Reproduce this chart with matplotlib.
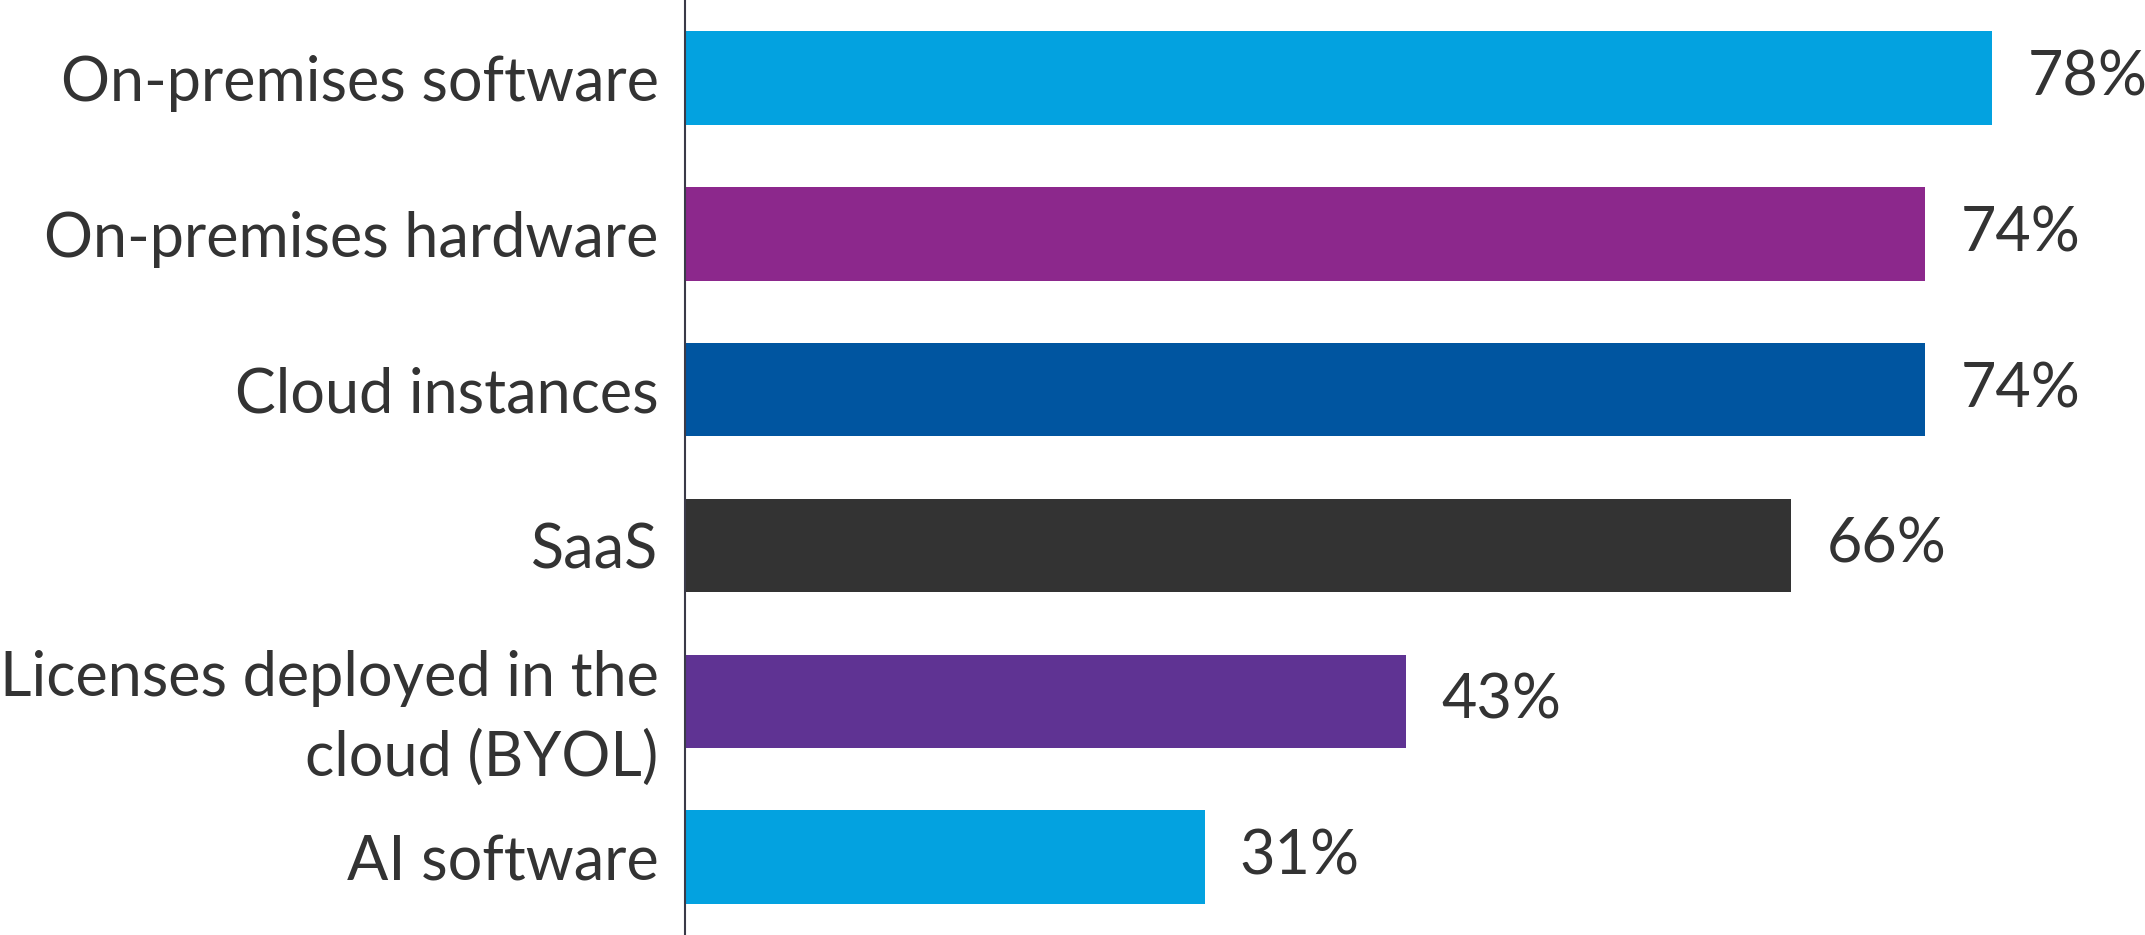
#!/usr/bin/env python3

import matplotlib
matplotlib.use('Agg')
import matplotlib.pyplot as plt
import numpy as np

# ======================================================================
# Data.
# ======================================================================

categories = [
    'On-premises software',
    'On-premises hardware',
    'Cloud instances',
    'SaaS',
    'Licenses deployed in the\ncloud (BYOL)',
    'AI software',
]
values = [78, 74, 74, 66, 43, 31]
colors = ['#03a2e0', '#8c288c', '#0055a0', '#333333', '#5f3393', '#03a2e0']

# ======================================================================
# Plot.
# ======================================================================

plt.rcParams['font.family'] = ['Lato', 'DejaVu Sans']
txt = '#333333'

fig = plt.figure(figsize=(21.45, 9.35), dpi=100)
ax = fig.add_axes([685/2145, 0., 1 - 685/2145, 1.])

y = np.arange(len(categories))
ax.barh(y, values, height=0.6, color=colors)

for yi, v in zip(y, values):
    ax.text(v + 2.1, yi, '{}%'.format(v), va='center', ha='left',
            fontsize=44, color=txt)

ax.set_yticks(y)
ax.set_yticklabels(categories, fontsize=44, color=txt, linespacing=1.5)
ax.tick_params(axis='y', length=0, pad=19)
ax.set_xticks([])
ax.set_xlim(0, 87.1)
ax.set_ylim(5.5, -0.5)

for s in ['top', 'right', 'bottom']:
    ax.spines[s].set_visible(False)
ax.spines['left'].set_color('#3a3a48')
ax.spines['left'].set_linewidth(1.5)

fig.savefig('out.png', dpi=100)
plt.close()
